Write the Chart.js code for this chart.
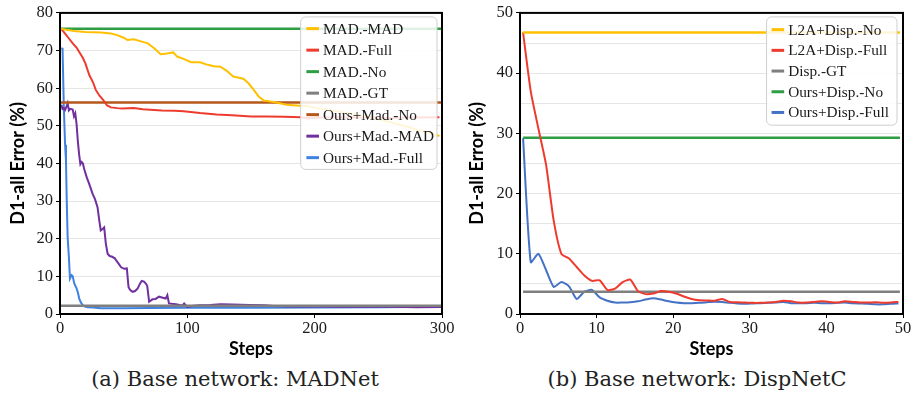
<!DOCTYPE html>
<html>
<head>
<meta charset="utf-8">
<script src="https://cdn.jsdelivr.net/npm/chart.js@4.4.1/dist/chart.umd.min.js"></script>
<style>
html, body { margin: 0; padding: 0; background: #fff; }
#page { position: relative; width: 918px; height: 398px; overflow: hidden; }
.box { position: absolute; top: 0; width: 459px; height: 362px; }
.cap { position: absolute; top: 367px; font-family: "DejaVu Serif"; font-size: 21px; color: #222;
       white-space: nowrap; transform: translateX(-50%); }
</style>
</head>
<body>
<div id="page">
  <div class="box" style="left:0"><canvas id="chartA" width="459" height="362"></canvas></div>
  <div class="box" style="left:459px"><canvas id="chartB" width="459" height="362"></canvas></div>
  <div class="cap" style="left:235px">(a) Base network: MADNet</div>
  <div class="cap" style="left:697px">(b) Base network: DispNetC</div>
</div>
<script>
"use strict"

// ---- (a) MADNet, 300 steps ----
const stepsMadMad = [0.8,5,11,20,32,40,45,50,53,58,63,69,74,79,84,89,92,97,103,110,116,121,126,131,136,144,148,152,156,160,168,178,186,195,205,215,228,241,254,267,280,291,298];
const valsMadMad  = [75.8,75.5,75.2,74.9,74.8,74.5,74.1,73.4,72.8,73.0,72.5,71.9,70.6,69.0,69.2,69.5,68.4,67.8,66.9,66.9,66.2,65.8,65.7,64.6,63.1,62.5,61.3,59.6,57.8,56.7,56.3,55.6,55.4,55.2,54.5,54.0,53.2,52.5,51.4,50.3,49.0,48.1,47.3];

const stepsMadFull = [0.8,4,7,10,13,15,18,20,23,26,28,31,34,37,40,45,49,58,65,71,80,90,97,110,123,135,150,162,176,189,195,205,220,240,260,280,298];
const valsMadFull  = [75.8,74.5,73.2,71.9,70.8,69.7,68.0,66.5,63.5,61.5,59.6,58.0,56.8,55.4,54.9,54.7,54.6,54.7,54.4,54.3,54.1,54.0,53.9,53.4,53.0,52.8,52.5,52.5,52.4,52.3,52.0,52.2,52.3,52.2,52.1,52.2,52.3];

const stepsFlatA = [0.8, 300];
const valsMadNo  = [75.8, 75.8];
const valsMadGT  = [2.2, 2.2];
const valsOursMadNo = [56.2, 56.2];

const stepsOursMadMad = [1,2,3,4,5,6,7,8,10,11,12,13,14,15,16,17,18,19,21,23,25.6,27.5,29.5,31,32,33.4,34.7,36,37.4,39,41,43,44,46,48,50.4,52.5,53.8,55,57,59,61,63,64.2,66,67.4,68.5,70,72.6,75,77.8,80,83,84.3,85.6,88,91,94,96,97.5,99,100,105,110,118,126,135,149,160,168,180,200,220,240,260,280,300];
const valsOursMadMad  = [55.6,54.5,54.7,54.2,55.0,56.0,54.1,54.5,54.3,52.5,53.3,50.5,46.0,42.5,39.8,40.4,40.0,38.5,36.3,34.5,31.9,30.5,28.3,24.5,22.2,22.6,23.0,18.7,16.0,15.4,15.2,14.8,14.3,13.4,12.4,12.0,12.1,7.2,6.4,5.9,6.1,6.8,8.2,8.8,8.6,8.1,7.5,3.25,3.9,4.0,4.6,4.4,4.1,5.0,2.8,2.7,2.6,2.4,2.2,2.8,2.2,1.9,2.2,2.3,2.4,2.6,2.5,2.4,2.3,2.1,2.0,2.0,1.95,1.9,1.9,1.8,1.85];

const stepsOursMadFull = [1,2,3,4,4.7,5.3,6,7,7.8,9.1,10,11.2,13,14,15.1,16.5,17.8,19.5,21.7,26,32,40,50,70,100,150,200,250,300];
const valsOursMadFull  = [70.6,70.5,55.0,45.0,40.7,30.0,20.4,15.0,9.4,10.3,10.0,8.1,6.8,5.8,4.1,3.0,2.4,2.0,1.8,1.7,1.55,1.5,1.55,1.6,1.65,1.65,1.7,1.8,1.9];

const xTicksA = [0, 100, 200, 300];
const yTicksA = [0, 10, 20, 30, 40, 50, 60, 70, 80];

// ---- (b) DispNetC, 50 steps ----
const stepsB = [0.4,1.4,2.4,3.4,4.4,5.4,6.4,7.4,8.4,9.4,10.4,11.4,12.4,13.4,14.4,15.4,16.4,17.4,18.4,19.4,20.4,21.4,22.4,23.4,24.4,25.4,26.4,27.4,28.4,29.4,30.4,31.4,32.4,33.4,34.4,35.4,36.4,37.4,38.4,39.4,40.4,41.4,42.4,43.4,44.4,45.4,46.4,47.4,48.4,49.4];
const valsL2AFull = [46.75,37.0,30.8,24.8,15.5,10.0,9.2,7.8,6.4,5.5,5.6,4.0,4.2,5.3,5.7,3.8,3.3,3.4,3.8,3.7,3.4,2.9,2.5,2.3,2.25,2.2,2.5,2.0,1.95,1.9,1.85,1.85,1.9,2.0,2.2,2.1,1.9,1.9,2.0,2.1,2.0,1.9,2.1,2.0,1.9,1.9,1.95,1.85,1.9,2.0];
const valsOursDispFull = [29.2,8.6,10.0,7.3,4.5,5.3,4.6,2.5,3.7,4.0,2.75,2.2,1.9,1.9,1.95,2.1,2.4,2.6,2.4,2.1,1.9,1.8,1.8,1.85,1.95,2.05,2.0,1.85,1.75,1.7,1.75,1.8,1.85,1.9,2.0,1.8,1.8,1.8,1.85,1.8,1.8,1.85,1.9,1.8,1.75,1.7,1.6,1.6,1.7,1.75];
const stepsFlatB = [0.4, 49.6];
const valsL2ANo = [46.75, 46.75];
const valsDispGT = [3.7, 3.7];
const valsOursDispNo = [29.25, 29.25];

const xTicksB = [0, 10, 20, 30, 40, 50];
const yTicksB = [0, 10, 20, 30, 40, 50];

// zip two arrays into {x,y} points
function pts(xs, ys){
    return xs.map((x, i) => ({x: x, y: ys[i]}));
}

function line(label, color, xs, ys, width, tension){
    return {
        label: label,
        data: pts(xs, ys),
        borderColor: color,
        backgroundColor: color,
        borderWidth: width || 2,
        pointRadius: 0,
        fill: false,
        tension: tension || 0,
    };
}

// legend drawn as a box inside the plot, top right
const boxLegend = {
    id: 'boxLegend',
    afterDatasetsDraw(chart, args, opts){
        const ctx = chart.ctx;
        const area = chart.chartArea;
        const sets = chart.data.datasets;
        ctx.save();
        ctx.font = '15.3px "Liberation Serif"';
        let maxW = 0;
        sets.forEach(d => { maxW = Math.max(maxW, ctx.measureText(d.label).width); });
        const w = opts.padLeft + 16.6 + maxW + opts.padRight;
        const h = opts.padY * 2 + sets.length * opts.rowH;
        const x = area.right - opts.inset - w;
        const y = area.top + 4;
        ctx.beginPath();
        ctx.roundRect(x, y, w, h, 5);
        ctx.fillStyle = 'rgba(255,255,255,0.85)';
        ctx.fill();
        ctx.strokeStyle = '#cfcfcf';
        ctx.lineWidth = 1;
        ctx.stroke();
        ctx.textBaseline = 'middle';
        ctx.textAlign = 'left';
        sets.forEach((d, i) => {
            const cy = y + opts.padY + opts.rowH * (i + 0.5);
            ctx.fillStyle = d.borderColor;
            ctx.fillRect(x + opts.padLeft, cy - 1.5, 12.6, 3);
            ctx.fillStyle = '#1a1a1a';
            ctx.fillText(d.label, x + opts.padLeft + 16.6, cy + 1);
        });
        ctx.restore();
    },
    afterDraw(chart){
        // black frame round the plot
        const ctx = chart.ctx;
        const a = chart.chartArea;
        ctx.save();
        ctx.strokeStyle = '#000';
        ctx.lineWidth = 2;
        ctx.strokeRect(a.left, a.top, a.right - a.left, a.bottom - a.top);
        ctx.restore();
    }
};

function makeOptions(xTicks, yTicks, yStep, padRight, yWidth, legendOpts){
    const tickFont = {family: '"Liberation Serif"', size: 16.5};
    const titleFont = {family: 'Lato', size: 18, weight: 'bold'};
    return {
        responsive: false,
        animation: false,
        layout: {padding: {top: 11, right: padRight, bottom: 2, left: 0}},
        plugins: {
            legend: {display: false},
            tooltip: {enabled: false},
            boxLegend: legendOpts,
        },
        scales: {
            x: {
                type: 'linear',
                min: xTicks[0],
                max: xTicks[xTicks.length - 1],
                afterBuildTicks: s => { s.ticks = xTicks.map(v => ({value: v})); },
                ticks: {font: tickFont, color: '#1a1a1a', padding: 1, maxRotation: 0},
                grid: {drawOnChartArea: false, drawTicks: true, tickLength: 4, tickColor: '#000'},
                border: {display: false},
                title: {display: true, text: 'Steps', font: titleFont, color: '#000', padding: {top: 0, bottom: 0}},
                afterFit: s => { s.height = 46; },
            },
            y: {
                min: yTicks[0],
                max: yTicks[yTicks.length - 1],
                ticks: {
                    stepSize: yStep,
                    font: tickFont,
                    color: '#1a1a1a',
                    padding: 3,
                    callback: v => (yTicks.indexOf(v) >= 0 ? v : ''),
                },
                grid: {
                    color: '#e6e6e6',
                    lineWidth: 1,
                    tickLength: 4,
                    tickColor: c => (yTicks.indexOf(c.tick.value) >= 0 ? '#000' : 'rgba(0,0,0,0)'),
                },
                border: {display: false},
                title: {display: true, text: 'D1-all Error (%)', font: titleFont, color: '#000', padding: {top: 7, bottom: 0}},
                afterFit: s => { s.width = yWidth; },
            }
        }
    };
}

new Chart('chartA', {
    type: 'line',
    data: {
        datasets: [
            line('MAD.-MAD', '#FFC000', stepsMadMad, valsMadMad),
            line('MAD.-Full', '#EE3B2E', stepsMadFull, valsMadFull),
            line('MAD.-No', '#2E9E45', stepsFlatA, valsMadNo, 2.5),
            line('MAD.-GT', '#7F7F7F', stepsFlatA, valsMadGT, 2.5),
            line('Ours+Mad.-No', '#B4571A', stepsFlatA, valsOursMadNo, 2.5),
            line('Ours+Mad.-MAD', '#7030A0', stepsOursMadMad, valsOursMadMad),
            line('Ours+Mad.-Full', '#3F82DF', stepsOursMadFull, valsOursMadFull),
        ]
    },
    options: makeOptions(xTicksA, yTicksA, 10, 17, 60, {padLeft: 5.7, padRight: 3, padY: 1, rowH: 21.5, inset: 5}),
    plugins: [boxLegend],
});

new Chart('chartB', {
    type: 'line',
    data: {
        datasets: [
            line('L2A+Disp.-No', '#FFC000', stepsFlatB, valsL2ANo, 2.5),
            line('L2A+Disp.-Full', '#EE3B2E', stepsB, valsL2AFull, 2, 0.2),
            line('Disp.-GT', '#7F7F7F', stepsFlatB, valsDispGT, 2.5),
            line('Ours+Disp.-No', '#2E9E45', stepsFlatB, valsOursDispNo, 2.5),
            line('Ours+Disp.-Full', '#4472C4', stepsB, valsOursDispFull, 2, 0.2),
        ]
    },
    options: makeOptions(xTicksB, yTicksB, 5, 15, 61, {padLeft: 5, padRight: 8, padY: 2.4, rowH: 20.7, inset: 6}),
    plugins: [boxLegend],
});
</script>
</body>
</html>
